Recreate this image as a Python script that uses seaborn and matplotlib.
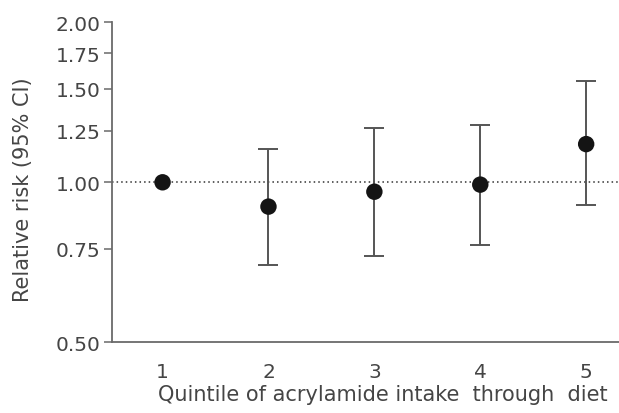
import numpy as np
import pandas as pd
import seaborn as sns
import matplotlib.pyplot as plt
from matplotlib.ticker import FixedLocator, NullLocator

quintiles = [1, 2, 3, 4, 5]
relative_risk = [1.00, 0.90, 0.96, 0.99, 1.18]
ci_lower = [np.nan, 0.70, 0.726, 0.763, 0.905]
ci_upper = [np.nan, 1.155, 1.263, 1.282, 1.549]
y_ticks = [0.50, 0.75, 1.00, 1.25, 1.50, 1.75, 2.00]


def main():
    sns.set_style('white')
    plt.rcParams['font.family'] = ['DejaVu Sans']
    text_color = '#454545'
    axis_color = '#6a6a6a'

    df = pd.DataFrame({'quintile': quintiles, 'rr': relative_risk,
                       'lo': ci_lower, 'hi': ci_upper})

    fig = plt.figure(figsize=(6.19, 4.14), dpi=100)
    ax = fig.add_axes([0.1805, 0.1708, 0.8195, 0.7729])

    # reference line at RR = 1
    ax.axhline(1.0, color='#333333', linestyle=(0, (1, 2)), linewidth=1.1, zorder=1)

    # confidence intervals
    ci = df.dropna()
    ax.errorbar(ci['quintile'], ci['rr'],
                yerr=[ci['rr'] - ci['lo'], ci['hi'] - ci['rr']],
                fmt='none', ecolor='#555555', elinewidth=1.4,
                capsize=7, capthick=1.4, zorder=2)

    sns.scatterplot(data=df, x='quintile', y='rr', ax=ax, s=140,
                    color='#141414', edgecolor='none', zorder=3)

    ax.set_yscale('log')
    ax.set_ylim(0.5, 2.0)
    ax.set_xlim(0.52, 5.31)
    ax.yaxis.set_major_locator(FixedLocator(y_ticks))
    ax.yaxis.set_minor_locator(NullLocator())
    ax.set_yticklabels([f'{t:.2f}' for t in y_ticks])
    ax.set_xticks(quintiles)
    ax.set_xticklabels([str(q) for q in quintiles])

    for side in ['top', 'right']:
        ax.spines[side].set_visible(False)
    for side in ['left', 'bottom']:
        ax.spines[side].set_color(axis_color)
        ax.spines[side].set_linewidth(1.3)

    ax.tick_params(axis='y', length=6, width=1.1, color=axis_color,
                   labelsize=14.5, labelcolor=text_color, pad=2, left=True)
    ax.tick_params(axis='x', length=0, labelsize=14.5, labelcolor=text_color, pad=14)

    ax.set_xlabel('Quintile of acrylamide intake  through  diet',
                  fontsize=15, color=text_color)
    ax.xaxis.set_label_coords(0.535, -0.13)
    ax.set_ylabel('Relative risk (95% CI)', fontsize=15, color=text_color)
    ax.yaxis.set_label_coords(-0.155, 0.48)

    fig.savefig('out.png', dpi=100)


if __name__ == '__main__':
    main()
